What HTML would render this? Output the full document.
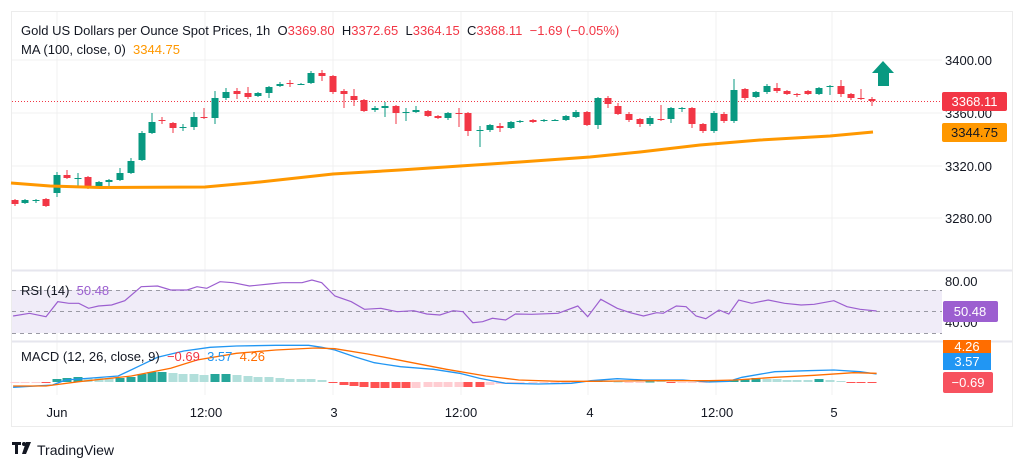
<!DOCTYPE html>
<html><head><meta charset="utf-8"><style>
html,body{margin:0;padding:0;background:#fff;}
body{width:1024px;height:469px;overflow:hidden;font-family:"Liberation Sans",sans-serif;}
svg text{font-family:"Liberation Sans",sans-serif;white-space:pre;}
</style></head><body>
<svg id="s" width="1024" height="469" viewBox="0 0 1024 469" xmlns="http://www.w3.org/2000/svg">
<rect x="11.5" y="11.5" width="1001" height="415" fill="#fff" stroke="#ececec"/>
<g stroke="#f0f0f0" stroke-width="1">
<line x1="12" y1="60" x2="942" y2="60"/><line x1="12" y1="113" x2="942" y2="113"/>
<line x1="12" y1="166" x2="942" y2="166"/><line x1="12" y1="218" x2="942" y2="218"/>
<line x1="57" y1="12" x2="57" y2="395"/><line x1="205" y1="12" x2="205" y2="395"/>
<line x1="333" y1="12" x2="333" y2="395"/><line x1="461" y1="12" x2="461" y2="395"/>
<line x1="588" y1="12" x2="588" y2="395"/><line x1="716" y1="12" x2="716" y2="395"/>
<line x1="832" y1="12" x2="832" y2="395"/>
</g>
<line x1="12" y1="270.5" x2="1012" y2="270.5" stroke="#e6e6ee" stroke-width="2"/>
<line x1="12" y1="341.5" x2="1012" y2="341.5" stroke="#e6e6ee" stroke-width="2"/>
<rect x="12" y="290" width="930" height="43" fill="#f0ecf8"/>
<g stroke="#9a9aa4" stroke-dasharray="4,4" stroke-width="1">
<line x1="12" y1="290.5" x2="942" y2="290.5"/><line x1="12" y1="311.5" x2="942" y2="311.5"/><line x1="12" y1="333.5" x2="942" y2="333.5"/>
</g>
<line x1="12" y1="101.5" x2="942" y2="101.5" stroke="#f23645" stroke-dasharray="1,2" stroke-width="1"/>
<g id="cd"></g>
<polyline fill="none" stroke="#ff9800" stroke-width="3" points="11,183 50,186 100,187.5 205,187 260,182 333,174 400,170 460,166 520,162 590,157 640,152 700,145 760,140 830,136 873,132"/>
<g id="hist"></g>
<polyline id="rsi" fill="none" stroke="#9c5fd0" stroke-width="1.2"/>
<polyline id="macd" fill="none" stroke="#2196f3" stroke-width="1.3"/>
<polyline id="sig" fill="none" stroke="#ff6d00" stroke-width="1.3"/>
<text x="21" y="35" font-size="13" fill="#131722" xml:space="preserve">Gold US Dollars per Ounce Spot Prices, 1h  O<tspan fill="#f23645">3369.80</tspan>  H<tspan fill="#f23645">3372.65</tspan>  L<tspan fill="#f23645">3364.15</tspan>  C<tspan fill="#f23645">3368.11</tspan>  <tspan fill="#f23645">−1.69 (−0.05%)</tspan></text>
<text x="21" y="54" font-size="13" fill="#131722" xml:space="preserve">MA (100, close, 0)  <tspan fill="#ff9800">3344.75</tspan></text>
<text x="21" y="295" font-size="13" fill="#131722" xml:space="preserve">RSI (14)  <tspan fill="#9c5fd0">50.48</tspan></text>
<text x="21" y="361" font-size="13" fill="#131722" xml:space="preserve">MACD (12, 26, close, 9)  <tspan fill="#f23645">−0.69</tspan>  <tspan fill="#2196f3">3.57</tspan>  <tspan fill="#ff6d00">4.26</tspan></text>
<g font-size="13" fill="#131722">
<text x="945" y="65">3400.00</text><text x="945" y="118">3360.00</text><text x="945" y="171">3320.00</text><text x="945" y="223">3280.00</text>
<text x="945" y="286">80.00</text><text x="945" y="327">40.00</text>
</g>
<rect x="942" y="92" width="65" height="19" rx="2" fill="#f23645"/>
<text x="974.5" y="106" font-size="13" fill="#fff" text-anchor="middle">3368.11</text>
<rect x="942" y="123" width="65" height="19" rx="2" fill="#ff9800"/>
<text x="974.5" y="137" font-size="13" fill="#131722" text-anchor="middle">3344.75</text>
<rect x="943" y="301" width="55" height="21" rx="2" fill="#9c5fd0"/>
<text x="970" y="316" font-size="13" fill="#fff" text-anchor="middle">50.48</text>
<rect x="943" y="340" width="48" height="13" fill="#ff6d00"/>
<text x="967" y="351" font-size="13" fill="#fff" text-anchor="middle">4.26</text>
<rect x="943" y="353" width="48" height="17" fill="#2196f3"/>
<text x="967" y="366" font-size="13" fill="#fff" text-anchor="middle">3.57</text>
<rect x="943" y="372" width="50" height="21" rx="2" fill="#f7525f"/>
<text x="968" y="387" font-size="13" fill="#fff" text-anchor="middle">−0.69</text>
<polygon points="883,61 894,73 889,73 889,86 878,86 878,73 872,73" fill="#089981"/>
<g font-size="13" fill="#131722" text-anchor="middle">
<text x="57" y="417">Jun</text><text x="206" y="417">12:00</text><text x="334" y="417">3</text><text x="461" y="417">12:00</text><text x="590" y="417">4</text><text x="717" y="417">12:00</text><text x="834" y="417">5</text>
</g>
<rect x="12" y="442" width="9" height="3" fill="#131722"/><rect x="15" y="442" width="3" height="12" fill="#131722"/><circle cx="24" cy="444" r="2" fill="#131722"/><polygon points="26,442 31,442 26,454 22,454" fill="#131722"/>
<text x="37" y="455" font-size="14" fill="#131722">TradingView</text>
</svg>
<script>
var NS="http://www.w3.org/2000/svg";
function el(p,t,a){var e=document.createElementNS(NS,t);for(var k in a)e.setAttribute(k,a[k]);p.appendChild(e);return e;}
var G="#089981",R="#f23645";
var C=[[15,200,204,199,206,R],[25,200,203,199,204,G],[36,200,201,199,203,G],[46,199,206,198,207,R],[57,175,193,172,197,G],[67,175,178,170,179,R],[78,178,179,173,187,G],[88,177,187,176,189,R],[99,182,187,181,188,G],[109,180,182,179,186,G],[120,173,180,168,181,G],[131,161,173,158,174,G],[142,133,160,131,161,G],[152,122,133,113,134,G],[162,120,121,117,124,R],[173,123,128,122,133,R],[183,127,128,124,131,G],[194,117,127,112,130,G],[204,117,118,108,119,R],[215,98,118,91,124,G],[226,92,98,88,100,G],[237,91,94,88,99,R],[248,93,97,87,99,R],[258,93,96,92,97,G],[269,87,93,86,98,G],[280,84,86,82,87,G],[290,83,84,80,87,R],[301,84,85,83,85,G],[311,73,83,71,84,G],[322,73,76,70,81,R],[333,76,92,75,94,R],[344,91,94,89,108,R],[354,96,100,89,106,R],[364,100,111,99,112,R],[375,108,110,106,112,G],[385,106,108,102,117,G],[396,106,113,105,124,R],[406,112,113,108,121,G],[416,110,112,106,113,G],[428,111,116,110,117,R],[438,116,118,115,119,R],[448,113,118,112,120,G],[459,113,114,108,127,R],[468,113,131,112,136,R],[480,130,131,126,147,G],[490,125,130,124,132,G],[500,126,128,123,132,R],[511,122,128,121,129,G],[520,121,122,120,123,G],[533,120,122,119,123,R],[544,120,121,119,122,G],[555,120,121,119,121,G],[566,116,120,115,121,G],[576,112,117,110,118,G],[587,112,125,111,126,R],[598,98,125,97,129,G],[608,98,104,96,108,R],[618,106,114,103,115,R],[629,114,120,112,122,R],[640,119,124,118,127,R],[650,118,124,116,126,G],[661,119,120,105,121,R],[671,108,119,107,123,G],[682,108,109,107,112,G],[692,108,124,107,128,R],[703,124,131,123,133,R],[714,113,131,111,133,G],[724,114,121,112,123,R],[734,90,121,79,123,G],[745,89,98,88,100,R],[756,92,97,91,98,G],[767,86,92,84,94,G],[777,88,91,83,93,R],[787,91,94,90,95,R],[797,94,95,93,97,R],[808,91,94,90,95,R],[819,88,94,87,95,G],[830,86,87,85,95,G],[841,86,94,80,97,R],[851,94,98,93,100,R],[861,98,99,89,100,R],[872,99,101,97,106,R]];
var cd=document.getElementById("cd");
C.forEach(function(c){el(cd,"line",{x1:c[0],x2:c[0],y1:c[3],y2:c[4],stroke:c[5],"stroke-width":1});
el(cd,"rect",{x:c[0]-3.5,y:c[1],width:7,height:Math.max(1,c[2]-c[1]),fill:c[5]});});
var DG="#26a69a",LG="#b2dfdb",DR="#ff5252",LR="#ffcdd2";
var H=[-1,-1,-1,-1,3,4,5,4,4,4,4,5,8,10,10,9,8,8,7,8,8,7,6,5,5,4,3,3,3,2,-1,-3,-4,-5,-6,-6,-6,-6,-6,-5,-5,-5,-5,-5,-5,-3,-2,-2,-2,-1,-1,-1,-1,-1,1,1,1,0.5,-1,-1,0.5,1,-1,-1,-1,-0.5,1,1,2,3,4,3,3,2,2,2,3,2,1,-1,-1,-1];
var HC=[LR,LR,LR,DR,DG,DG,DG,LG,LG,LG,DG,DG,DG,DG,DG,LG,LG,LG,LG,DG,DG,LG,LG,LG,LG,LG,LG,LG,LG,LG,DR,DR,DR,DR,DR,DR,DR,DR,LR,LR,LR,LR,LR,DR,DR,LR,LR,LR,LR,LR,LR,LR,LR,LR,DG,DG,LG,LG,LR,LR,DG,LG,DR,LR,LR,LR,DG,DG,DG,DG,DG,LG,LG,LG,LG,LG,DG,LG,LG,DR,DR,DR];
var hg=document.getElementById("hist"),Z=382;
C.forEach(function(c,i){var h=H[i];if(h===undefined)return;
el(hg,"rect",{x:c[0]-4.5,y:h>0?Z-h:Z,width:9,height:Math.max(1,Math.abs(h)),fill:HC[i]});});
function pts(a){return a.map(function(p){return (p[0]/1.523).toFixed(1)+","+(270+p[1]/3).toFixed(1);}).join(" ");}
document.getElementById("rsi").setAttribute("points",pts([[20,138],[45,130],[70,140],[88,95],[105,100],[120,100],[135,115],[150,108],[170,105],[190,92],[215,50],[240,48],[260,60],[285,60],[300,50],[315,55],[335,35],[355,38],[380,48],[410,42],[430,38],[460,38],[475,30],[490,38],[510,78],[535,95],[555,118],[580,115],[605,125],[630,122],[650,132],[670,135],[690,122],[705,125],[720,158],[735,155],[750,145],[770,150],[785,132],[810,133],[850,130],[880,108],[895,140],[915,88],[940,115],[960,128],[980,138],[1000,128],[1010,130],[1030,108],[1045,110],[1060,138],[1075,146],[1095,120],[1110,132],[1125,90],[1145,100],[1170,90],[1195,100],[1220,105],[1240,103],[1270,92],[1290,110],[1310,118],[1335,123]]));
document.getElementById("macd").setAttribute("points",pts([[20,352],[80,345],[100,330],[180,318],[210,290],[240,262],[280,243],[320,232],[360,228],[420,226],[470,226],[490,232],[510,240],[540,260],[570,278],[610,290],[660,298],[700,310],[730,325],[770,340],[820,342],[870,340],[900,332],[940,326],[980,330],[1040,330],[1080,336],[1110,334],[1130,322],[1180,305],[1230,302],[1270,300],[1310,305],[1335,312]]));
document.getElementById("sig").setAttribute("points",pts([[20,348],[70,348],[120,335],[200,318],[260,295],[300,270],[360,250],[420,240],[480,234],[510,236],[560,252],[620,275],[680,298],[740,318],[790,330],[850,334],[900,334],[1000,332],[1080,332],[1120,330],[1180,322],[1240,316],[1300,308],[1335,310]]));
</script>
</body></html>
